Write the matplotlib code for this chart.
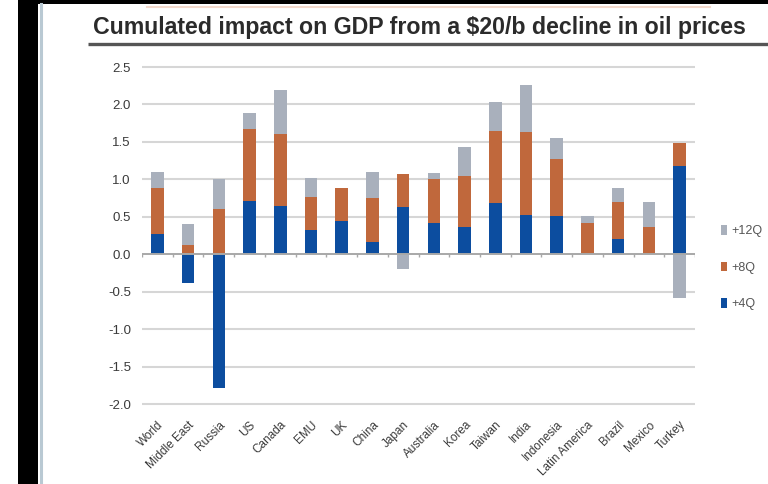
import numpy as np
import matplotlib
matplotlib.use("Agg")
import matplotlib.pyplot as plt
from matplotlib.patches import Rectangle
from matplotlib.lines import Line2D

plt.rcParams['font.family'] = ['Liberation Sans', 'DejaVu Sans']
plt.rcParams['axes.unicode_minus'] = False

categories = ['World', 'Middle East', 'Russia', 'US', 'Canada', 'EMU', 'UK', 'China',
              'Japan', 'Australia', 'Korea', 'Taiwan', 'India', 'Indonesia',
              'Latin America', 'Brazil', 'Mexico', 'Turkey']
q4 = [0.27, -0.38, -1.78, 0.71, 0.64, 0.33, 0.44, 0.17, 0.63, 0.42, 0.37, 0.68,
      0.53, 0.51, 0.0, 0.20, 0.0, 1.18]
q8 = [0.61, 0.12, 0.61, 0.96, 0.97, 0.44, 0.45, 0.58, 0.44, 0.59, 0.67, 0.96,
      1.10, 0.76, 0.42, 0.50, 0.37, 0.30]
q12 = [0.22, 0.28, 0.40, 0.22, 0.58, 0.25, 0.0, 0.35, -0.20, 0.07, 0.39, 0.39,
       0.63, 0.28, 0.09, 0.18, 0.33, -0.58]
series_labels = ['+4Q', '+8Q', '+12Q']
yticks = [-2.0, -1.5, -1.0, -0.5, 0.0, 0.5, 1.0, 1.5, 2.0, 2.5]
title = 'Cumulated impact on GDP from a $20/b decline in oil prices'

colors = ['#0c4d9f', '#c0683c', '#a9b0bc']

W, H = 768, 484
fig = plt.figure(figsize=(W / 100, H / 100), dpi=100)
fig.patch.set_facecolor('white')

def fx(px):
    return px / W

def fy(py):
    return 1 - py / H

# frame decorations (screenshot border)
fig.add_artist(Rectangle((fx(18), 0), fx(20), 1, transform=fig.transFigure,
                         facecolor='black', edgecolor='none'))
fig.add_artist(Rectangle((fx(18), fy(4)), 1, fy(0) - fy(4), transform=fig.transFigure,
                         facecolor='black', edgecolor='none'))
fig.add_artist(Line2D([fx(41), fx(41)], [0, fy(4)], transform=fig.transFigure,
                      color='#b9c9d3', lw=2.2))
fig.add_artist(Line2D([fx(147), fx(710)], [fy(7), fy(7)], transform=fig.transFigure,
                      color='#f3d9cc', lw=1.5))

# title
t = fig.text(fx(93), fy(34), title, ha='left', va='baseline', fontsize=14,
             color='#2b2b2b', fontweight='bold')
fig.canvas.draw()
bb = t.get_window_extent()
t.set_fontsize(14 * 654 / bb.width)
fig.add_artist(Line2D([fx(88), 1], [fy(43.5), fy(43.5)], transform=fig.transFigure,
                      color='#555555', lw=2.4, solid_capstyle='butt'))

# axes
ymin, ymax = -2.03, 2.53
top_px = 67 - 0.03 * 74.9
h_px = (ymax - ymin) * 74.9
ax = fig.add_axes([fx(142), (H - top_px - h_px) / H, fx(695) - fx(142), h_px / H])
ax.set_facecolor('none')

x = np.arange(len(categories))
pos_bottom = np.zeros(len(categories))
neg_bottom = np.zeros(len(categories))
handles = []
for vals, c, lab in zip([q4, q8, q12], colors, series_labels):
    v = np.array(vals)
    bottom = np.where(v >= 0, pos_bottom, neg_bottom)
    b = ax.bar(x, v, width=0.41, bottom=bottom, color=c, label=lab, zorder=3)
    handles.append(b)
    pos_bottom = pos_bottom + np.where(v > 0, v, 0)
    neg_bottom = neg_bottom + np.where(v < 0, v, 0)

ax.set_xlim(-0.5, len(categories) - 0.5)
ax.set_ylim(ymin, ymax)
ax.set_yticks(yticks)
ax.set_yticklabels(['%.1f' % v for v in yticks])
for s in ax.spines.values():
    s.set_visible(False)
for yv in yticks:
    if yv != 0:
        ax.axhline(yv, color='#d6d6d6', lw=1.5, zorder=1)
ax.axhline(0, color='#a8a8a8', lw=1.4, zorder=4)
ax.vlines(np.arange(len(categories) + 1) - 0.5, 0, -0.04, color='#a8a8a8', lw=1, zorder=4)

ax.tick_params(axis='y', length=0, pad=8, labelsize=9.5, labelcolor='#3a3a3a')
ax.set_xticks(x)
ax.set_xticklabels(categories, rotation=45, ha='right', rotation_mode='anchor')
ax.tick_params(axis='x', length=0, pad=9, labelsize=8.5, labelcolor='#3a3a3a')

leg = fig.legend(handles[::-1], series_labels[::-1], loc='upper left',
                 bbox_to_anchor=(fx(721), fy(225)), frameon=False, fontsize=9,
                 labelcolor='#555555', handlelength=0.5, handleheight=0.8,
                 handletextpad=0.3, labelspacing=1.96, borderpad=0, borderaxespad=0)

fig.savefig('out.png', dpi=100, facecolor='white')
